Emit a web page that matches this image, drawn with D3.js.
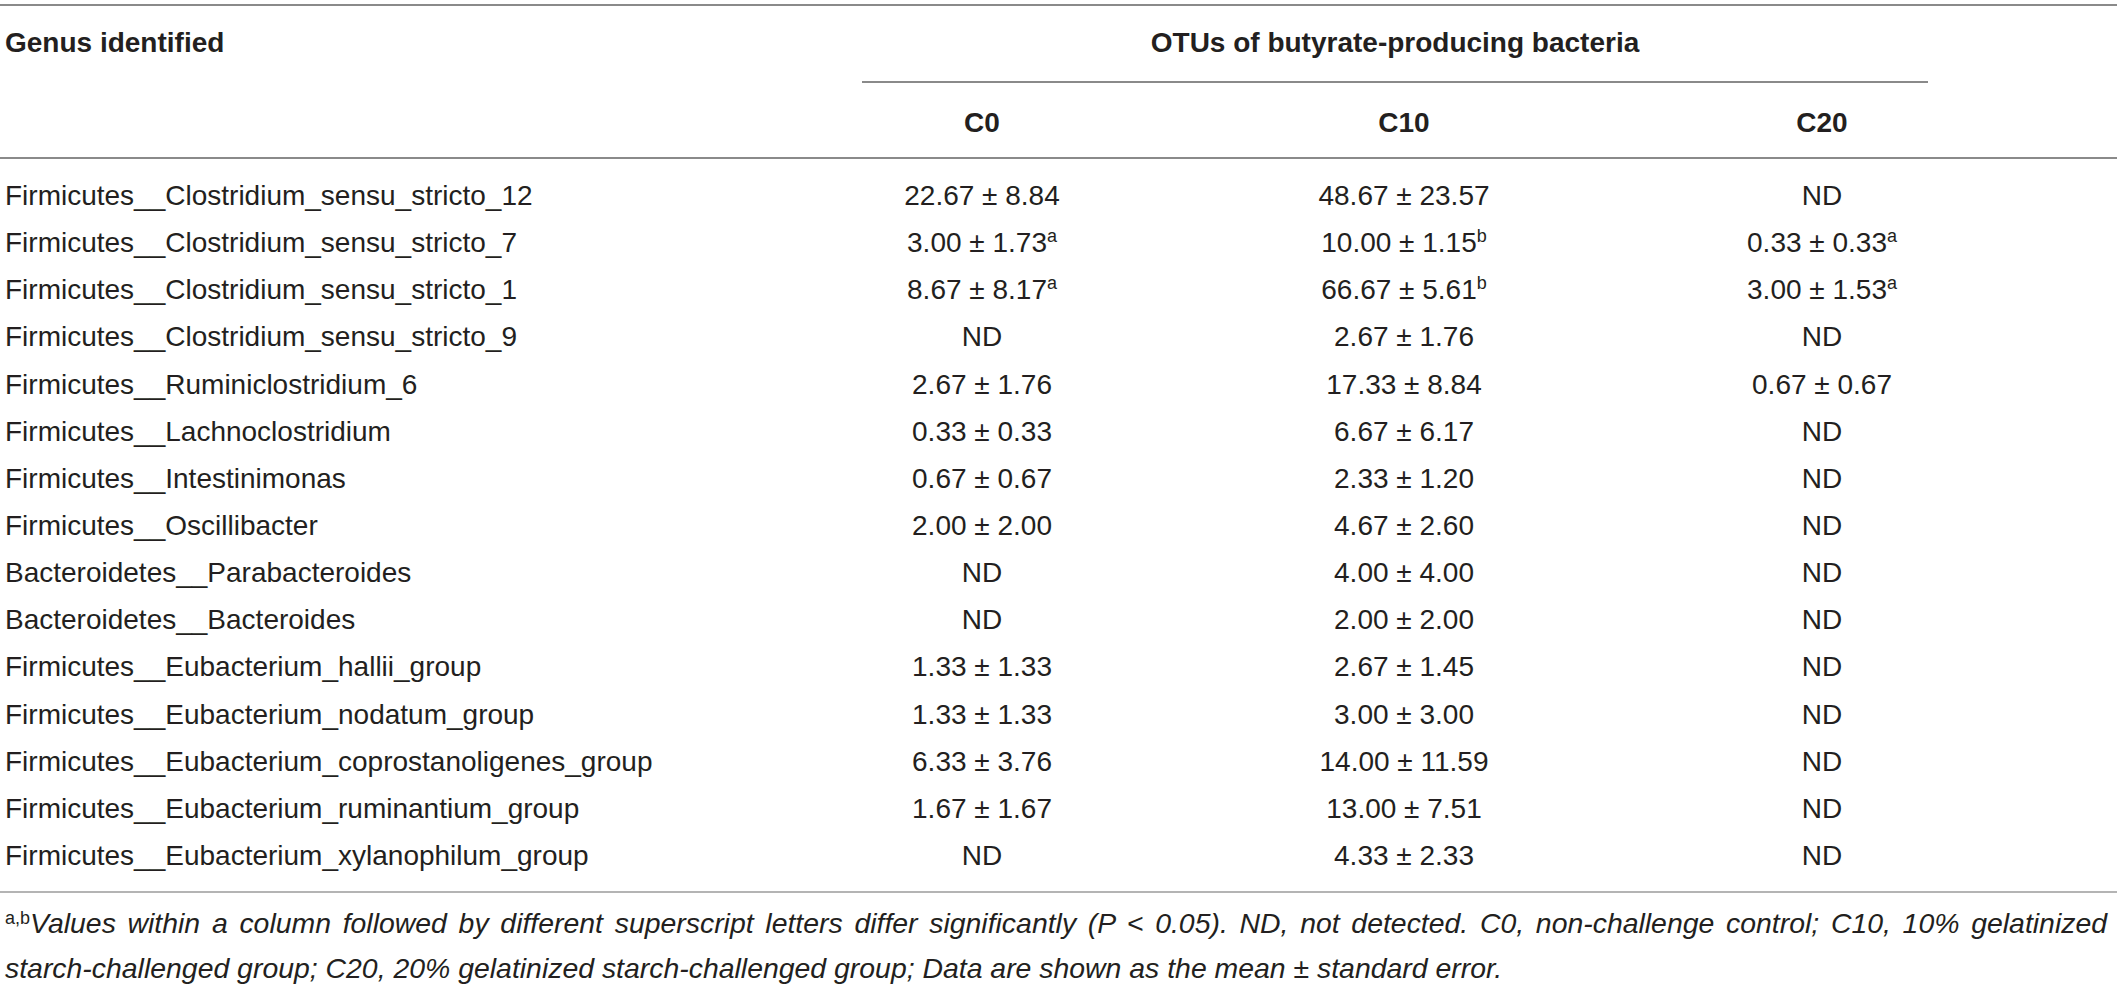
<!DOCTYPE html>
<html>
<head>
<meta charset="utf-8">
<script src="https://cdn.jsdelivr.net/npm/d3@7"></script>
<style>
  body { margin: 0; background: #fff; }
  svg { display: block; font-family: "Liberation Sans", Arial, sans-serif; }
</style>
</head>
<body>
<svg id="table"></svg>
<script>
const width = 2117
const height = 984

// table content
const genera = [
  "Firmicutes__Clostridium_sensu_stricto_12",
  "Firmicutes__Clostridium_sensu_stricto_7",
  "Firmicutes__Clostridium_sensu_stricto_1",
  "Firmicutes__Clostridium_sensu_stricto_9",
  "Firmicutes__Ruminiclostridium_6",
  "Firmicutes__Lachnoclostridium",
  "Firmicutes__Intestinimonas",
  "Firmicutes__Oscillibacter",
  "Bacteroidetes__Parabacteroides",
  "Bacteroidetes__Bacteroides",
  "Firmicutes__Eubacterium_hallii_group",
  "Firmicutes__Eubacterium_nodatum_group",
  "Firmicutes__Eubacterium_coprostanoligenes_group",
  "Firmicutes__Eubacterium_ruminantium_group",
  "Firmicutes__Eubacterium_xylanophilum_group"
]
const groups = ["C0", "C10", "C20"]

// null = ND (not detected)
const c0Mean = [22.67, 3.00, 8.67, null, 2.67, 0.33, 0.67, 2.00, null, null, 1.33, 1.33, 6.33, 1.67, null]
const c0SE   = [8.84, 1.73, 8.17, null, 1.76, 0.33, 0.67, 2.00, null, null, 1.33, 1.33, 3.76, 1.67, null]
const c0Sup  = ["", "a", "a", "", "", "", "", "", "", "", "", "", "", "", ""]

const c10Mean = [48.67, 10.00, 66.67, 2.67, 17.33, 6.67, 2.33, 4.67, 4.00, 2.00, 2.67, 3.00, 14.00, 13.00, 4.33]
const c10SE   = [23.57, 1.15, 5.61, 1.76, 8.84, 6.17, 1.20, 2.60, 4.00, 2.00, 1.45, 3.00, 11.59, 7.51, 2.33]
const c10Sup  = ["", "b", "b", "", "", "", "", "", "", "", "", "", "", "", ""]

const c20Mean = [null, 0.33, 3.00, null, 0.67, null, null, null, null, null, null, null, null, null, null]
const c20SE   = [null, 0.33, 1.53, null, 0.67, null, null, null, null, null, null, null, null, null, null]
const c20Sup  = ["", "a", "a", "", "", "", "", "", "", "", "", "", "", "", ""]

const footLine1 = "Values within a column followed by different superscript letters differ significantly (P < 0.05). ND, not detected. C0, non-challenge control; C10, 10% gelatinized"
const footLine2 = "starch-challenged group; C20, 20% gelatinized starch-challenged group; Data are shown as the mean \u00b1 standard error."

const textColor = "#231f20"
const fmt = d3.format(".2f")

let cells = []
const series = [[c0Mean, c0SE, c0Sup], [c10Mean, c10SE, c10Sup], [c20Mean, c20SE, c20Sup]]
genera.forEach((g, i) => {
  series.forEach((s, j) => {
    cells.push({genus: g, group: groups[j], mean: s[0][i], se: s[1][i], sup: s[2][i]})
  })
})

const svg = d3.select("#table")
  .attr("width", width)
  .attr("height", height)
  .attr("viewBox", `0 0 ${width} ${height}`)

let yScale = d3.scalePoint()
  .domain(genera)
  .range([205, 865])

let xScale = d3.scaleOrdinal()
  .domain(groups)
  .range([982, 1404, 1822])

// rules
const rules = [
  {x1: 0, x2: width, y: 5, c: "#8a8a8a"},
  {x1: 862, x2: 1928, y: 82, c: "#8a8a8a"},
  {x1: 0, x2: width, y: 158, c: "#8a8a8a"},
  {x1: 0, x2: width, y: 892, c: "#b4b4b4"}
]
svg.selectAll("line.rule")
  .data(rules)
  .join("line")
  .attr("class", "rule")
  .attr("x1", d => d.x1)
  .attr("x2", d => d.x2)
  .attr("y1", d => d.y)
  .attr("y2", d => d.y)
  .attr("stroke", d => d.c)
  .attr("stroke-width", 2)

// header
svg.append("text")
  .text("Genus identified")
  .attr("x", 5)
  .attr("y", 52)
  .attr("font-size", 28)
  .attr("font-weight", "bold")
  .attr("fill", textColor)

svg.append("text")
  .text("OTUs of butyrate-producing bacteria")
  .attr("x", 1395)
  .attr("y", 52)
  .attr("text-anchor", "middle")
  .attr("font-size", 28)
  .attr("font-weight", "bold")
  .attr("fill", textColor)

svg.selectAll("text.colhead")
  .data(groups)
  .join("text")
  .attr("class", "colhead")
  .text(d => d)
  .attr("x", d => xScale(d))
  .attr("y", 132)
  .attr("text-anchor", "middle")
  .attr("font-size", 28)
  .attr("font-weight", "bold")
  .attr("fill", textColor)

// row labels
svg.selectAll("text.genus")
  .data(genera)
  .join("text")
  .attr("class", "genus")
  .text(d => d)
  .attr("x", 5)
  .attr("y", d => yScale(d))
  .attr("font-size", 28)
  .attr("fill", textColor)

// values
let valueText = svg.selectAll("text.cell")
  .data(cells)
  .join("text")
  .attr("class", "cell")
  .attr("x", d => xScale(d.group))
  .attr("y", d => yScale(d.genus))
  .attr("text-anchor", "middle")
  .attr("font-size", 28)
  .attr("fill", textColor)

valueText.append("tspan")
  .text(d => d.mean == null ? "ND" : `${fmt(d.mean)} \u00b1 ${fmt(d.se)}`)

valueText.filter(d => d.sup)
  .append("tspan")
  .text(d => d.sup)
  .attr("font-size", 18)
  .attr("dy", -10)

// footnote
let foot1 = svg.append("text")
  .attr("x", 5)
  .attr("y", 933)
  .attr("font-size", 27)
  .attr("fill", textColor)
foot1.append("tspan")
  .text("a,b")
  .attr("font-size", 18)
  .attr("dy", -9)
let foot1Body = foot1.append("tspan")
  .text(footLine1)
  .attr("font-style", "italic")
  .attr("dy", 9)

let foot2 = svg.append("text")
  .text(footLine2)
  .attr("x", 5)
  .attr("y", 978)
  .attr("font-size", 27)
  .attr("font-style", "italic")
  .attr("fill", textColor)

// size footnote so line 2 ends where it does in print, then justify line 1
let fs = 27 * 1498 / foot2.node().getComputedTextLength()
foot2.attr("font-size", fs)
foot1.attr("font-size", fs)
foot1Body.attr("font-size", fs)
let natural = foot1.node().getComputedTextLength()
let spaces = footLine1.split(" ").length - 1
foot1Body.attr("word-spacing", (2107 - 5 - natural) / spaces)
</script>
</body>
</html>
